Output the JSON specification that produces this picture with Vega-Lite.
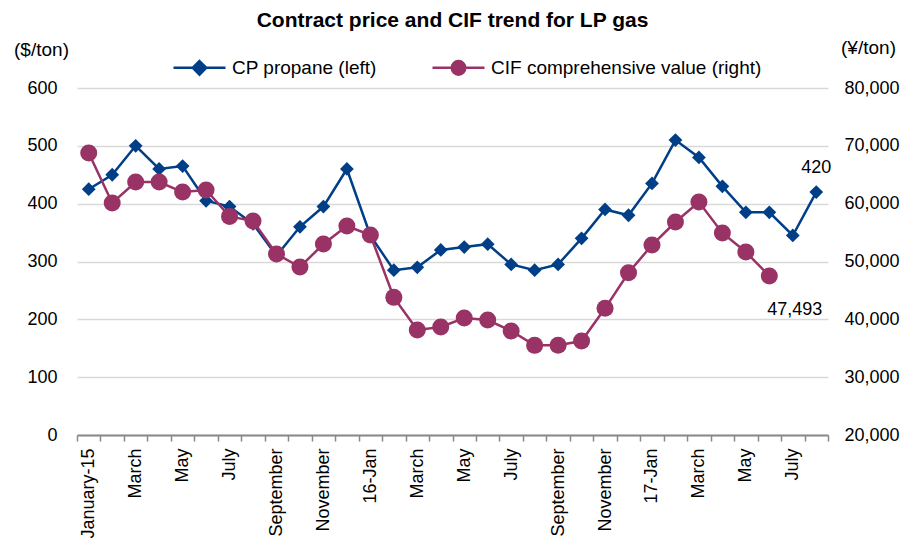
{
  "$schema": "https://vega.github.io/schema/vega-lite/v6.json",
  "autosize": {"type": "none"},
  "width": 751,
  "height": 347,
  "padding": {"left": 77, "top": 88, "right": 78, "bottom": 114},
  "background": "white",
  "config": {
    "view": {"stroke": null},
    "font": "Liberation Sans",
    "axis": {"labelFont": "Liberation Sans", "titleFont": "Liberation Sans", "labelColor": "#000000", "titleColor": "#000000"}
  },
  "title": {
    "text": "Contract price and CIF trend for LP gas",
    "fontSize": 21,
    "fontWeight": "bold",
    "font": "Liberation Sans",
    "color": "#000000",
    "anchor": "middle",
    "frame": "group",
    "offset": 7
  },
  "data": {
    "values": [
      {"m": 0, "cp": 425, "cif": 68760},
      {"m": 1, "cp": 450, "cif": 60110},
      {"m": 2, "cp": 500, "cif": 63740},
      {"m": 3, "cp": 460, "cif": 63740},
      {"m": 4, "cp": 465, "cif": 62010},
      {"m": 5, "cp": 405, "cif": 62360},
      {"m": 6, "cp": 395, "cif": 57800},
      {"m": 7, "cp": 365, "cif": 57000},
      {"m": 8, "cp": 310, "cif": 51300},
      {"m": 9, "cp": 360, "cif": 49050},
      {"m": 10, "cp": 395, "cif": 53020},
      {"m": 11, "cp": 460, "cif": 56140},
      {"m": 12, "cp": 345, "cif": 54580},
      {"m": 13, "cp": 285, "cif": 43800},
      {"m": 14, "cp": 290, "cif": 38150},
      {"m": 15, "cp": 320, "cif": 38670},
      {"m": 16, "cp": 325, "cif": 40230},
      {"m": 17, "cp": 330, "cif": 39880},
      {"m": 18, "cp": 295, "cif": 38000},
      {"m": 19, "cp": 285, "cif": 35500},
      {"m": 20, "cp": 295, "cif": 35520},
      {"m": 21, "cp": 340, "cif": 36250},
      {"m": 22, "cp": 390, "cif": 41900},
      {"m": 23, "cp": 380, "cif": 48050},
      {"m": 24, "cp": 435, "cif": 52850},
      {"m": 25, "cp": 510, "cif": 56830},
      {"m": 26, "cp": 480, "cif": 60290},
      {"m": 27, "cp": 430, "cif": 54930},
      {"m": 28, "cp": 385, "cif": 51640},
      {"m": 29, "cp": 385, "cif": 47493},
      {"m": 30, "cp": 345, "cif": null},
      {"m": 31, "cp": 420, "cif": null}
    ]
  },
  "encoding": {
    "x": {
      "field": "m",
      "type": "ordinal",
      "scale": {"type": "band", "paddingInner": 0, "paddingOuter": 0},
      "axis": {
        "title": null,
        "labelAngle": -90,
        "labelAlign": "right",
        "labelBaseline": "middle",
        "labelFontSize": 18,
        "labelPadding": 7,
        "labelExpr": "['January-15','','March','','May','','July','','September','','November','','16-Jan','','March','','May','','July','','September','','November','','17-Jan','','March','','May','','July',''][datum.value]",
        "tickBand": "extent",
        "ticks": true,
        "tickSize": 6,
        "tickColor": "#898989",
        "tickWidth": 1.5,
        "domainColor": "#898989",
        "domainWidth": 2,
        "grid": false,
        "labelOverlap": false
      }
    }
  },
  "layer": [
    {
      "encoding": {
        "y": {
          "field": "cp",
          "type": "quantitative",
          "scale": {"domain": [0, 600], "nice": false},
          "axis": {
            "orient": "left",
            "values": [0, 100, 200, 300, 400, 500, 600],
            "format": "d",
            "title": "($/ton)",
            "titleAngle": 0,
            "titleX": -36,
            "titleY": -39,
            "titleAlign": "center",
            "titleBaseline": "middle",
            "titleFontSize": 19,
            "titleFontWeight": "normal",
            "labelFontSize": 18,
            "labelPadding": 20,
            "ticks": false,
            "domain": false,
            "grid": true,
            "gridColor": "#d9d9d9",
            "gridWidth": 1.5
          }
        }
      },
      "layer": [
        {
          "mark": {"type": "line", "strokeWidth": 2.5},
          "encoding": {
            "color": {
              "datum": "CP propane (left)",
              "type": "nominal",
              "scale": {"domain": ["CP propane (left)", "CIF comprehensive value (right)"], "range": ["#003f87", "#993366"]},
              "legend": {
                "title": null,
                "orient": "none",
                "legendX": 95,
                "legendY": -48,
                "direction": "horizontal",
                "padding": 0,
                "symbolSize": 2704,
                "symbolStrokeWidth": 2.5,
                "labelFontSize": 19,
                "labelFont": "Liberation Sans",
                "labelColor": "#000000",
                "labelOffset": 5,
                "labelLimit": 400,
                "columnPadding": 50,
                "encode": {
                  "symbols": {
                    "update": {
                      "shape": {"signal": "datum.value === 'CP propane (left)' ? 'M-1,0H1M0,-0.26L0.26,0L0,0.26L-0.26,0Z' : 'M-1,0H1M-0.26,0A0.26,0.26 0 1,0 0.26,0A0.26,0.26 0 1,0 -0.26,0Z'"},
                      "fill": {"signal": "datum.value === 'CP propane (left)' ? '#003f87' : '#993366'"},
                      "stroke": {"signal": "datum.value === 'CP propane (left)' ? '#003f87' : '#993366'"},
                      "strokeWidth": {"value": 2.5},
                      "size": {"value": 2704},
                      "opacity": {"value": 1},
                      "fillOpacity": {"value": 1},
                      "strokeOpacity": {"value": 1}
                    }
                  }
                }
              }
            }
          }
        },
        {
          "mark": {"type": "point", "shape": "diamond", "filled": true, "size": 190, "opacity": 1, "color": "#003f87"},
          "encoding": {}
        },
        {
          "transform": [{"filter": "datum.m === 31"}],
          "mark": {"type": "text", "fontSize": 18, "font": "Liberation Sans", "color": "#000000", "dy": -24, "align": "center", "baseline": "middle"},
          "encoding": {"text": {"field": "cp", "type": "quantitative", "format": "d"}}
        }
      ]
    },
    {
      "encoding": {
        "y": {
          "field": "cif",
          "type": "quantitative",
          "scale": {"domain": [20000, 80000], "nice": false},
          "axis": {
            "orient": "right",
            "values": [20000, 30000, 40000, 50000, 60000, 70000, 80000],
            "format": ",d",
            "title": "(¥/ton)",
            "titleAngle": 0,
            "titleX": 40,
            "titleY": -41,
            "titleAlign": "center",
            "titleBaseline": "middle",
            "titleFontSize": 19,
            "titleFontWeight": "normal",
            "labelFontSize": 18,
            "labelPadding": 16,
            "ticks": false,
            "domain": false,
            "grid": false
          }
        }
      },
      "layer": [
        {
          "transform": [{"filter": "datum.cif != null"}],
          "mark": {"type": "line", "strokeWidth": 2.5},
          "encoding": {"color": {"datum": "CIF comprehensive value (right)", "type": "nominal"}}
        },
        {
          "transform": [{"filter": "datum.cif != null"}],
          "mark": {"type": "point", "shape": "circle", "filled": true, "size": 290, "opacity": 1, "color": "#993366"},
          "encoding": {}
        },
        {
          "transform": [{"filter": "datum.m === 29"}],
          "mark": {"type": "text", "fontSize": 18, "font": "Liberation Sans", "color": "#000000", "dy": 34, "dx": -2, "align": "left", "baseline": "middle"},
          "encoding": {"text": {"field": "cif", "type": "quantitative", "format": ",d"}}
        }
      ]
    }
  ],
  "resolve": {"scale": {"y": "independent"}}
}
